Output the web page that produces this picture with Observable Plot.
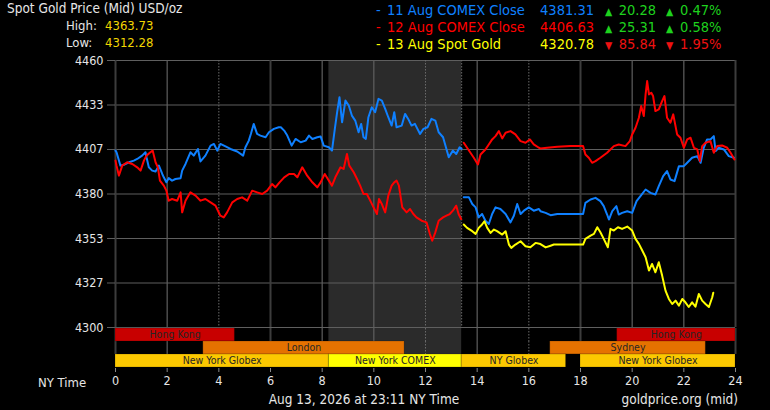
<!DOCTYPE html>
<html>
<head>
<meta charset="utf-8">
<script src="https://cdn.jsdelivr.net/npm/d3@7"></script>
<script src="https://cdn.jsdelivr.net/npm/@observablehq/plot@0.6"></script>
<style>
body{margin:0;background:#000;}
#wrap{position:relative;width:770px;height:410px;overflow:hidden;background:#000;color:#e6e6e6;
  font-family:"DejaVu Sans Condensed","DejaVu Sans",sans-serif;}
.t{position:absolute;white-space:nowrap;line-height:1;font-size:13px;}
#chart,#sessions{position:absolute;left:0;}
#chart{top:0;}
#sessions{top:327px;}
</style>
</head>
<body>
<div id="wrap">
  <div id="chart"></div>
  <div id="sessions"></div>
  <div id="header"></div>
</div>
<script>
// legend / header values
const seriesNames = ["11 Aug COMEX Close", "12 Aug COMEX Close", "13 Aug Spot Gold"]
const seriesColors = ["#0f80ff", "#ff0000", "#ffff00"]
const closes = ["4381.31", "4406.63", "4320.78"]
const changes = [20.28, 25.31, -85.84]
const pcts = [0.47, 0.58, -1.95]
const dayHigh = "4363.73", dayLow = "4312.28"

// axis ticks
const hourTicks = [0, 2, 4, 6, 8, 10, 12, 14, 16, 18, 20, 22, 24]
const priceTicks = [4300, 4326.67, 4353.33, 4380, 4406.67, 4433.33, 4460]
const lightHours = [2, 8, 10, 14, 20, 22]
const darkHours = [0, 6, 18, 24]
const dottedHours = [4, 12, 16]
const comexOpen = 8.26, comexClose = 13.4

// price traces [hour, price]
const blueA = [[0,4406],[0.04,4405],[0.19,4397],[0.32,4397.5],[0.52,4399],[0.71,4400],[0.84,4401],[1.03,4403],[1.16,4405],[1.2,4402],[1.29,4396],[1.42,4394],[1.55,4393.5],[1.68,4397],[1.81,4392],[1.87,4390],[1.97,4387],[2.06,4389.5],[2.19,4388],[2.32,4389],[2.52,4389.5],[2.58,4394],[2.71,4398],[2.9,4405],[3.03,4403],[3.19,4407],[3.29,4399.5],[3.48,4403],[3.68,4409],[3.81,4410],[3.94,4406],[4.06,4410],[4.26,4408.5],[4.45,4407],[4.71,4405.5],[4.94,4403],[5.03,4408],[5.16,4412],[5.24,4416],[5.35,4422],[5.48,4416],[5.61,4415],[5.81,4414],[5.94,4417],[6.13,4419],[6.32,4420],[6.4,4420],[6.53,4418],[6.65,4415],[6.82,4409],[6.97,4413],[7.17,4411],[7.36,4412],[7.49,4415],[7.62,4413],[7.81,4414],[7.94,4414.5],[8.06,4409],[8.26,4408],[8.38,4406],[8.49,4419],[8.58,4429],[8.67,4438],[8.77,4423],[8.9,4436],[9.03,4433],[9.15,4427],[9.28,4424],[9.41,4417],[9.51,4422],[9.6,4414],[9.69,4413],[9.79,4426],[9.92,4432],[10.05,4429],[10.18,4437],[10.31,4436],[10.44,4431],[10.56,4426],[10.69,4421],[10.79,4429],[10.88,4420],[11.08,4421],[11.21,4428],[11.33,4425],[11.46,4421],[11.59,4422],[11.79,4416],[11.92,4419],[12.08,4420],[12.23,4425],[12.38,4424],[12.51,4417],[12.68,4414],[12.81,4407],[12.9,4402],[13.06,4406],[13.19,4404],[13.32,4408],[13.4,4407]]
const blueB = [[13.48,4378],[13.68,4378],[13.81,4374],[13.94,4372],[14.06,4366],[14.19,4368],[14.32,4364],[14.45,4362],[14.58,4368],[14.71,4372],[14.9,4371],[15.1,4368],[15.29,4363],[15.42,4367],[15.55,4374],[15.68,4368],[15.81,4370],[16,4372],[16.19,4370],[16.39,4371],[16.45,4369.7],[16.65,4368.7],[16.84,4367.3],[17.1,4368],[17.5,4368],[18.1,4368],[18.19,4374.7],[18.39,4376.7],[18.58,4377.7],[18.77,4375.7],[18.9,4372.7],[19.03,4367.7],[19.1,4364.7],[19.23,4369.7],[19.39,4372.7],[19.48,4367.7],[19.61,4368.7],[19.81,4369.7],[20,4368.7],[20.17,4375.7],[20.32,4378.7],[20.52,4382.7],[20.71,4380.7],[20.9,4379.7],[21.03,4384.7],[21.2,4390.7],[21.35,4393.7],[21.48,4388.7],[21.64,4387.7],[21.81,4396.7],[22,4396.7],[22.13,4398.7],[22.32,4401.7],[22.52,4402.7],[22.65,4398.7],[22.77,4407.7],[22.9,4412.7],[23.03,4412.7],[23.16,4414.7],[23.23,4405.7],[23.35,4407.7],[23.55,4406.7],[23.74,4402.7],[23.94,4401.7]]
const redA = [[0,4400],[0.04,4397],[0.13,4391],[0.26,4397],[0.45,4399],[0.65,4398],[0.84,4396],[0.97,4394],[1.1,4400],[1.2,4403],[1.35,4405],[1.44,4406],[1.55,4399],[1.64,4396],[1.72,4388],[1.87,4385],[1.97,4382],[2.06,4376],[2.19,4377],[2.39,4376],[2.52,4381],[2.58,4369],[2.71,4376],[2.9,4381],[3.1,4379],[3.29,4376],[3.48,4377],[3.68,4375],[3.87,4373],[4.06,4367],[4.19,4366],[4.32,4369],[4.52,4375],[4.71,4377],[4.9,4378],[5.1,4376],[5.29,4382],[5.48,4381],[5.68,4380],[5.87,4382],[6.06,4386],[6.19,4384],[6.35,4387],[6.53,4390],[6.72,4392],[6.91,4392],[7.04,4390],[7.23,4396],[7.42,4391],[7.62,4387],[7.81,4384],[7.94,4387],[8.1,4392],[8.26,4388],[8.38,4385],[8.51,4390],[8.71,4396],[8.83,4395],[8.96,4404],[9.05,4397],[9.22,4393],[9.35,4389],[9.47,4385],[9.6,4380],[9.73,4380],[9.86,4376],[9.99,4372],[10.12,4368],[10.2,4377],[10.31,4374],[10.44,4369],[10.56,4379],[10.69,4385],[10.79,4387],[10.88,4388],[10.97,4385],[11.1,4372],[11.27,4369],[11.4,4371],[11.53,4368],[11.65,4366],[11.85,4364],[12.04,4363],[12.17,4356],[12.26,4352],[12.38,4357],[12.51,4364],[12.68,4366],[12.81,4367],[12.94,4368],[13.06,4370],[13.19,4373],[13.28,4368],[13.38,4365]]
const redB = [[13.48,4410.7],[13.61,4407.7],[13.74,4404.7],[13.87,4401.7],[14.03,4397.7],[14.13,4403.7],[14.32,4406.7],[14.45,4409.7],[14.58,4412.7],[14.71,4414.7],[14.84,4417.7],[14.97,4413.3],[15.1,4416.7],[15.29,4417.7],[15.48,4415.7],[15.68,4411.7],[15.87,4410.7],[16.04,4412.7],[16.19,4409.7],[16.39,4407.7],[16.45,4407.3],[16.71,4407.7],[17.1,4408.3],[17.61,4408.7],[18.1,4408.7],[18.19,4403.7],[18.32,4401.7],[18.45,4398.7],[18.58,4399.7],[18.77,4401.7],[19.03,4404.7],[19.29,4408.7],[19.48,4409.7],[19.74,4408.7],[19.91,4411.7],[20,4415.7],[20.13,4419.7],[20.26,4425.7],[20.35,4432.7],[20.45,4426.7],[20.52,4439.7],[20.58,4447.7],[20.65,4439.7],[20.74,4440.7],[20.81,4438.7],[20.9,4429.7],[21.03,4430.7],[21.16,4435.7],[21.25,4438.7],[21.35,4425.7],[21.48,4422.7],[21.59,4427.7],[21.74,4415.7],[21.87,4413.7],[22,4407.7],[22.13,4412.7],[22.26,4413.7],[22.39,4407.7],[22.52,4406.7],[22.62,4399.7],[22.71,4408.7],[22.84,4410.7],[23.03,4411.7],[23.16,4404.7],[23.29,4408.7],[23.48,4409.1],[23.68,4407.7],[23.81,4404.7],[23.96,4400.7]]
const yellow = [[13.48,4361.7],[13.61,4359.7],[13.81,4357.7],[13.94,4356.1],[14.06,4359.7],[14.19,4361.7],[14.28,4363.7],[14.39,4359.7],[14.52,4356.7],[14.65,4358.7],[14.77,4357.7],[14.97,4355.7],[15.1,4357.7],[15.23,4349.7],[15.32,4347.7],[15.48,4349.7],[15.68,4351.7],[15.87,4348.7],[16.06,4348.1],[16.26,4350.7],[16.45,4350],[16.65,4348],[16.84,4349],[16.97,4349.7],[18.1,4349.7],[18.19,4353.1],[18.39,4355.1],[18.52,4356.1],[18.65,4360.1],[18.77,4357.1],[18.9,4353.1],[19.06,4348.1],[19.16,4359.1],[19.29,4358.1],[19.45,4360.1],[19.61,4359.1],[19.81,4360.5],[20,4358.1],[20.13,4353.1],[20.26,4350.1],[20.39,4346.1],[20.52,4342.1],[20.65,4334.1],[20.77,4338.1],[20.9,4333.1],[21.03,4339.1],[21.16,4331.1],[21.29,4322.1],[21.42,4317.1],[21.55,4314.1],[21.68,4316.1],[21.81,4313.1],[21.94,4317.1],[22.06,4315.1],[22.19,4312.3],[22.32,4315.1],[22.45,4312.5],[22.58,4320.1],[22.71,4316.1],[22.84,4314.1],[22.97,4312.3],[23.1,4318.1],[23.14,4320.8]]

// trading sessions: label, row, kind, start hour, end hour
const sessionRows = ["asia", "europe", "americas"]
const sessionKinds = ["hk", "europe", "globex", "comex", "closed"]
const sessions = [
  ["Hong Kong", "asia", "hk", 0, 4.62],
  ["Hong Kong", "asia", "hk", 19.42, 24],
  ["London", "europe", "europe", 3.4, 11.19],
  ["Sydney", "europe", "europe", 16.83, 22.85],
  ["New York Globex", "americas", "globex", 0, comexOpen],
  ["New York COMEX", "americas", "comex", comexOpen, comexClose],
  ["NY Globex", "americas", "globex", comexClose, 17.45],
  ["", "americas", "closed", 17.45, 18],
  ["New York Globex", "americas", "globex", 18, 24]
].map(([label, row, kind, start, end]) => ({label, row, kind, start, end}))

const font = '"DejaVu Sans Condensed","DejaVu Sans",sans-serif'

// header
const hdr = document.getElementById("header")
function put(text, css, color) {
  const s = document.createElement("span")
  s.className = "t"
  s.textContent = text
  s.style.cssText += css
  if (color) s.style.color = color
  hdr.appendChild(s)
}
put("Spot Gold Price (Mid) USD/oz", "left:7px;top:2px;font-size:13.5px;")
put("High:", "left:66px;top:19px;")
put(dayHigh, "left:105px;top:19px;", "#f2d600")
put("Low:", "left:66px;top:36px;")
put(dayLow, "left:105px;top:36px;", "#f2d600")
seriesNames.forEach((name, i) => {
  const top = 3 + i * 17
  const c = seriesColors[i]
  const up = changes[i] >= 0
  const cc = up ? "#1ed21e" : "#ee1111"
  const arrow = up ? "\u25B2" : "\u25BC"
  const fs = "font-size:14.5px;"
  put("-", `left:376px;top:${top}px;` + fs, c)
  put(name, `left:387px;top:${top}px;` + fs, c)
  put(closes[i], `left:514px;top:${top}px;width:80px;text-align:right;` + fs, c)
  put(arrow, `left:605px;top:${top + 3}px;font-size:10.5px;`, cc)
  put(Math.abs(changes[i]).toFixed(2), `left:600px;top:${top}px;width:56px;text-align:right;` + fs, cc)
  put(arrow, `left:666px;top:${top + 3}px;font-size:10.5px;`, cc)
  put(Math.abs(pcts[i]).toFixed(2) + "%", `left:680px;top:${top}px;` + fs, cc)
})
put("NY Time", "left:38px;top:376px;")
put("Aug 13, 2026 at 23:11 NY Time", "left:200px;width:328px;text-align:center;top:393px;font-size:13.5px;")
put("goldprice.org (mid)", "right:32px;top:393px;font-size:13.5px;")

// main chart
const traces = [
  {name: seriesNames[0], seg: "a1", pts: blueA},
  {name: seriesNames[0], seg: "a2", pts: blueB},
  {name: seriesNames[1], seg: "b1", pts: redA},
  {name: seriesNames[1], seg: "b2", pts: redB},
  {name: seriesNames[2], seg: "c1", pts: yellow}
]
const rows = traces.flatMap(t => t.pts.map(([h, p]) => ({series: t.name, seg: t.seg, h, p})))

const chart = Plot.plot({
  width: 770,
  height: 345,
  marginTop: 60,
  marginBottom: 18,
  marginLeft: 115,
  marginRight: 35,
  x: {domain: [0, 24], axis: null},
  y: {domain: [4300, 4460]},
  color: {domain: seriesNames, range: seriesColors},
  style: {background: "transparent", color: "#e6e6e6", fontFamily: font, fontSize: "12.5px"},
  marks: [
    Plot.rect([0], {x1: () => comexOpen, x2: () => comexClose, fill: "#2b2b2b"}),
    Plot.ruleY(priceTicks, {stroke: "#5f5f5f", strokeWidth: 1.2}),
    Plot.ruleX(lightHours, {stroke: "#5f5f5f", strokeWidth: 1.2}),
    Plot.ruleX(darkHours, {stroke: "#3c3c3c", strokeWidth: 2}),
    Plot.ruleX(dottedHours, {stroke: "#6a6a6a", strokeDasharray: "1.5,1.5"}),
    Plot.ruleX([comexClose], {stroke: "#6a6a6a", strokeDasharray: "1.5,1.5"}),
    Plot.axisY({ticks: priceTicks, tickFormat: d3.format(".0f"), tickSize: 8, tickPadding: 4,
      stroke: "#5f5f5f", fill: "#e6e6e6", label: null}),
    Plot.line(rows.filter(d => d.series == seriesNames[0]), {x: "h", y: "p", z: "seg", stroke: "series", strokeWidth: 2}),
    Plot.line(rows.filter(d => d.series == seriesNames[1]), {x: "h", y: "p", z: "seg", stroke: "series", strokeWidth: 2}),
    Plot.line(rows.filter(d => d.series == seriesNames[2]), {x: "h", y: "p", z: "seg", stroke: "series", strokeWidth: 2})
  ]
})
document.getElementById("chart").append(chart)

// session bars + time axis
const gridRows = ["asia", "europe"]
const cells = hours => d3.cross(hours, gridRows).map(([h, row]) => ({h, row}))

const sess = Plot.plot({
  width: 770,
  height: 83,
  marginTop: 0,
  marginBottom: 42,
  marginLeft: 115,
  marginRight: 35,
  x: {domain: [0, 24]},
  y: {domain: sessionRows, padding: 0, axis: null},
  color: {domain: sessionKinds, range: ["#c80000", "#e57200", "#fcc800", "#ffff00", "#000000"]},
  style: {background: "transparent", color: "#e6e6e6", fontFamily: font, fontSize: "12.5px"},
  marks: [
    Plot.barX(gridRows, {x1: () => comexOpen, x2: () => comexClose, y: d => d, fill: "#2b2b2b"}),
    Plot.tickX(cells(lightHours), {x: "h", y: "row", stroke: "#5f5f5f", strokeWidth: 1.2}),
    Plot.tickX(cells(darkHours), {x: "h", y: "row", stroke: "#3c3c3c", strokeWidth: 2}),
    Plot.tickX(cells(dottedHours), {x: "h", y: "row", stroke: "#6a6a6a", strokeDasharray: "1.5,1.5"}),
    Plot.barX(sessions, {x1: "start", x2: "end", y: "row", fill: "kind", stroke: "#000", strokeOpacity: 0.18}),
    Plot.text(sessions, {x: d => (d.start + d.end) / 2, y: "row", text: "label", fill: "#262626", fontSize: 10.5}),
    Plot.axisX({ticks: hourTicks, tickSize: 4, tickPadding: 4, stroke: "#888", fill: "#e6e6e6", label: null})
  ]
})
document.getElementById("sessions").append(sess)
</script>
</body>
</html>
